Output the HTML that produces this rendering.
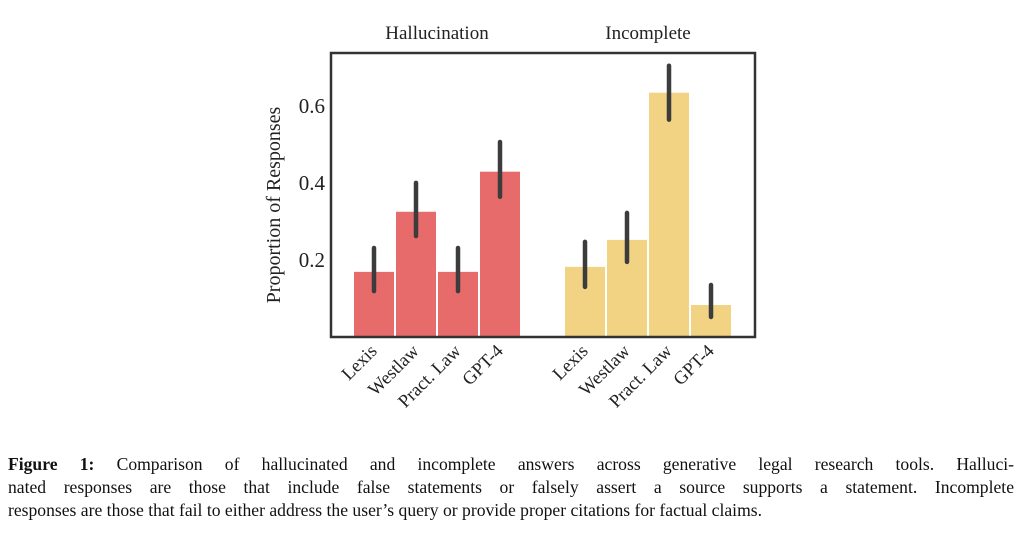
<!DOCTYPE html>
<html><head><meta charset="utf-8"><style>
body{margin:0;background:#fff;width:1024px;height:539px;overflow:hidden;font-family:"Liberation Serif",serif}
#cap{position:absolute;left:8px;top:453px;width:1006px;font-size:17.6px;line-height:23px;color:#111}
#cap div{white-space:nowrap}
#cap .j{text-align:justify;text-align-last:justify;white-space:normal}
</style></head><body>
<svg width="1024" height="440" style="position:absolute;left:0;top:0" font-family="Liberation Serif, serif">
<g id="g"></g>
</svg>
<div id="cap">
<div class="j"><b>Figure 1:</b> Comparison of hallucinated and incomplete answers across generative legal research tools. Halluci-</div>
<div class="j">nated responses are those that include false statements or falsely assert a source supports a statement. Incomplete</div>
<div>responses are those that fail to either address the user’s query or provide proper citations for factual claims.</div>
</div>
<script>
const categories=["Lexis","Westlaw","Pract. Law","GPT-4"];
const groups=["Hallucination","Incomplete"];
const halluc=[0.169,0.325,0.169,0.429];
const hallucLo=[0.119,0.262,0.119,0.364];
const hallucHi=[0.231,0.400,0.231,0.506];
const incomp=[0.182,0.252,0.634,0.083];
const incompLo=[0.130,0.195,0.564,0.052];
const incompHi=[0.247,0.322,0.704,0.135];
const yTicks=[0.2,0.4,0.6];
const NS="http://www.w3.org/2000/svg",g=document.getElementById('g');
const L=331,T=53,R=755,B=337,ymax=0.737;
const y=v=>B-v/ymax*(B-T);
const gStart=[354,565],pitch=42,bw=40;
const x=(gi,i)=>gStart[gi]+i*pitch;
function el(t,a,txt){const e=document.createElementNS(NS,t);for(const k in a)e.setAttribute(k,a[k]);if(txt!=null)e.textContent=txt;g.appendChild(e);return e;}
const data=[[halluc,hallucLo,hallucHi,"#e76b6b"],[incomp,incompLo,incompHi,"#f2d283"]];
data.forEach((d,gi)=>{
 const t=el('text',{x:x(gi,0)+(3*pitch+bw)/2,y:39,'text-anchor':'middle','font-size':19,fill:'#222'},groups[gi]);
 
 
 d[0].forEach((v,i)=>{
  const r=el('rect',{x:x(gi,i),y:y(v),width:bw,height:B-y(v),fill:d[3]});
  
  
  const cx=x(gi,i)+bw/2;
  const e=el('line',{x1:cx,x2:cx,y1:y(d[2][i]),y2:y(d[1][i]),stroke:'#3c3c3c','stroke-width':4.5,'stroke-linecap':'round'});
  
  
  const lb=el('text',{x:0,y:0,'text-anchor':'end','font-size':18.5,fill:'#222',transform:`translate(${cx+4},${B+15}) rotate(-45)`},categories[i]);
  
  
 });
});
yTicks.forEach(v=>{
 const t=el('text',{x:L-6,y:y(v)+7,'text-anchor':'end','font-size':21,fill:'#222'},v.toFixed(1));
 
 
});
const fr=el('rect',{x:L,y:T,width:R-L,height:B-T,fill:'none',stroke:'#333','stroke-width':2.5});


const yt=el('text',{x:0,y:0,'text-anchor':'middle','font-size':20,fill:'#222',transform:`translate(280,${(T+B)/2+10}) rotate(-90)`},"Proportion of Responses");


</script>
</body></html>
